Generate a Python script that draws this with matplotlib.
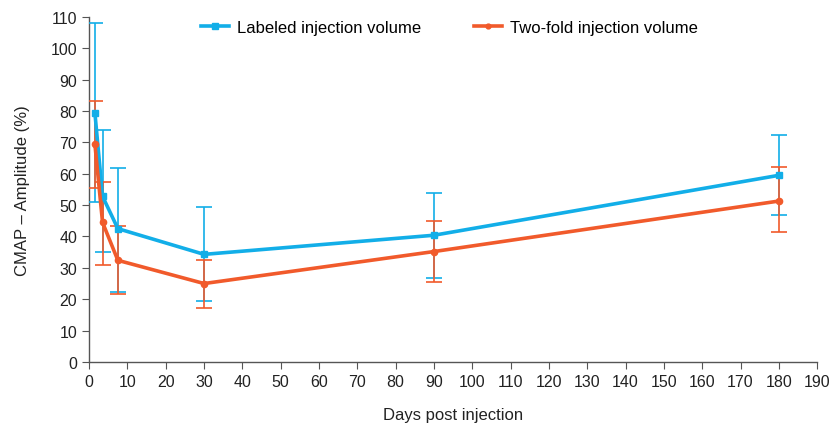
import numpy as np
import matplotlib.pyplot as plt
from matplotlib.lines import Line2D

plt.rcParams['font.family'] = ['Liberation Sans', 'DejaVu Sans']

days = [1.5, 3.5, 7.5, 30, 90, 180]
labeled = [79.5, 52.8, 42.5, 34.3, 40.4, 59.5]
labeled_lo = [51.0, 35.2, 22.4, 19.5, 26.8, 47.0]
labeled_hi = [108.0, 74.1, 61.9, 49.3, 53.9, 72.2]
twofold = [69.5, 44.5, 32.4, 25.0, 35.2, 51.3]
twofold_lo = [55.5, 31.0, 21.7, 17.3, 25.5, 41.3]
twofold_hi = [83.2, 57.3, 43.5, 32.6, 45.0, 62.0]
series_names = ['Labeled injection volume', 'Two-fold injection volume']

blue = '#12aee8'
orange = '#f15a2b'

fig = plt.figure(figsize=(8.33, 4.27), dpi=100)
ax = fig.add_axes([0.107, 0.15, 0.874, 0.808])

lab = np.array(labeled)
tw = np.array(twofold)
ax.errorbar(days, lab, yerr=[lab - np.array(labeled_lo), np.array(labeled_hi) - lab],
            color=blue, ecolor=blue, lw=2.6, elinewidth=1.2, capsize=6, capthick=1.2,
            marker='s', ms=5, zorder=3)
ax.errorbar(days, tw, yerr=[tw - np.array(twofold_lo), np.array(twofold_hi) - tw],
            color=orange, ecolor=orange, lw=2.6, elinewidth=1.2, capsize=6, capthick=1.2,
            marker='o', ms=4.5, zorder=3)

ax.set_xlim(0, 190)
ax.set_ylim(0, 110)
ax.set_xticks(range(0, 191, 10))
ax.set_yticks(range(0, 111, 10))
ax.spines['top'].set_visible(False)
ax.spines['right'].set_visible(False)
for s in ['left', 'bottom']:
    ax.spines[s].set_color('#555555')
    ax.spines[s].set_linewidth(1.0)
ax.tick_params(direction='out', length=5, color='#555555', labelsize=11.5, labelcolor='#222222')
ax.set_xlabel('Days post injection', fontsize=12, color='#222222')
ax.set_ylabel('CMAP – Amplitude (%)', fontsize=12, color='#222222')
ax.xaxis.set_label_coords(0.5, -0.13)
ax.yaxis.set_label_coords(-0.081, 0.5)

handles = [Line2D([], [], color=blue, lw=2.6, marker='s', ms=4),
           Line2D([], [], color=orange, lw=2.6, marker='o', ms=3.5)]
fig.legend(handles, series_names, loc='center left', bbox_to_anchor=(201 / 833, 1 - 28 / 427),
           ncol=2, frameon=False, fontsize=12, handlelength=1.65, handletextpad=0.5,
           columnspacing=3.2, borderpad=0, borderaxespad=0, numpoints=1)

fig.savefig('out.png', dpi=100)
